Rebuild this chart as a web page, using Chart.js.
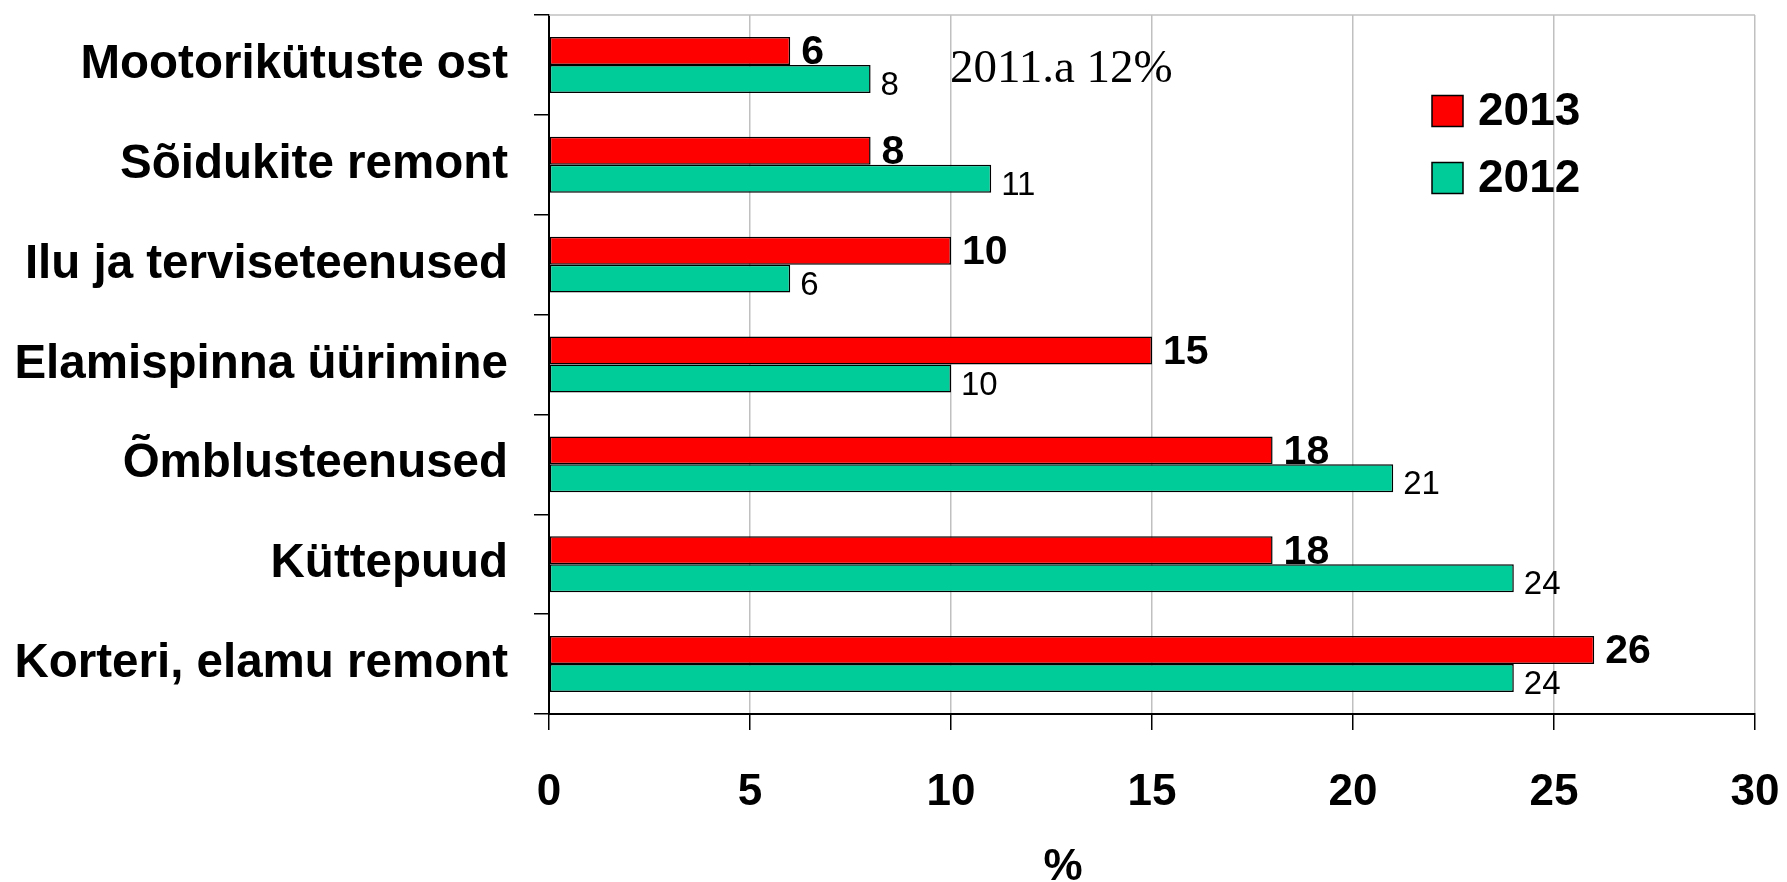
<!DOCTYPE html>
<html>
<head>
<meta charset="utf-8">
<script src="https://cdn.jsdelivr.net/npm/chart.js@4.4.1/dist/chart.umd.min.js"></script>
<style>
html,body{margin:0;padding:0;background:#fff;}
#wrap{width:1787px;height:882px;position:relative;}
</style>
</head>
<body>
<div id="wrap"><canvas id="c" width="1787" height="882"></canvas></div>
<script>
const categories = ["Mootorikütuste ost","Sõidukite remont","Ilu ja terviseteenused","Elamispinna üürimine","Õmblusteenused","Küttepuud","Korteri, elamu remont"];
const seriesNames = ["2013","2012"];
const values2013 = [6,8,10,15,18,18,26];
const values2012 = [8,11,6,10,21,24,24];
const xTicks = [0,5,10,15,20,25,30];
const axisTitle = "%";
const noteText = "2011.a 12%";

const SANS = "'Liberation Sans', Arial, sans-serif";
const SERIF = "'Liberation Serif', 'Times New Roman', serif";
const RED = "#ff0000";
const GREEN = "#00cc99";

const extras = {
  id: 'extras',
  afterDatasetsDraw(chart) {
    const ctx = chart.ctx;
    const area = chart.chartArea;
    ctx.save();
    ctx.strokeStyle = '#c0c0c0';
    ctx.lineWidth = 1.5;
    ctx.beginPath();
    ctx.moveTo(area.left, area.top);
    ctx.lineTo(area.right, area.top);
    ctx.stroke();
    const m0 = chart.getDatasetMeta(0), m1 = chart.getDatasetMeta(1);
    ctx.fillStyle = '#000';
    ctx.textBaseline = 'middle';
    ctx.textAlign = 'left';
    ctx.font = "bold 41px " + SANS;
    m0.data.forEach((b, i) => { ctx.fillText(String(values2013[i]), b.x + 11, b.y + 2); });
    ctx.font = "33px " + SANS;
    m1.data.forEach((b, i) => { ctx.fillText(String(values2012[i]), b.x + 10, b.y + 7); });
    ctx.font = "47px " + SERIF;
    ctx.fillText(noteText, 950, 70);
    const cols = [RED, GREEN];
    const ys = [111, 178];
    ctx.font = "bold 46px " + SANS;
    seriesNames.forEach((n, i) => {
      ctx.fillStyle = cols[i];
      ctx.fillRect(1432, ys[i] - 15.5, 31, 31);
      ctx.strokeStyle = '#000';
      ctx.lineWidth = 1.5;
      ctx.strokeRect(1432, ys[i] - 15.5, 31, 31);
      ctx.fillStyle = '#000';
      ctx.fillText(n, 1478, ys[i] + 1);
    });
    ctx.textAlign = 'center';
    ctx.font = "bold 44px " + SANS;
    ctx.fillText(axisTitle, 1063, 868);
    ctx.restore();
  }
};

new Chart(document.getElementById('c'), {
  type: 'bar',
  data: {
    labels: categories,
    datasets: [
      { label: seriesNames[0], data: values2013, backgroundColor: RED, borderColor: '#000', borderWidth: 1.5, borderSkipped: false },
      { label: seriesNames[1], data: values2012, backgroundColor: GREEN, borderColor: '#000', borderWidth: 1.5, borderSkipped: false }
    ]
  },
  options: {
    indexAxis: 'y',
    responsive: false,
    animation: false,
    devicePixelRatio: 1,
    categoryPercentage: 0.56,
    barPercentage: 1.0,
    layout: { padding: { top: 15, right: 32, left: 0, bottom: 0 } },
    plugins: { legend: { display: false }, tooltip: { enabled: false }, title: { display: false } },
    scales: {
      x: {
        type: 'linear',
        min: 0, max: 30,
        afterBuildTicks(scale) { scale.ticks = xTicks.map(v => ({ value: v })); },
        afterFit(scale) { scale.height = 168; scale.paddingLeft = 0; scale.paddingRight = 0; },
        grid: { color: '#c0c0c0', lineWidth: 1.5, tickColor: '#000', tickLength: 16, drawOnChartArea: true },
        border: { color: '#000', width: 2 },
        ticks: { color: '#000', font: { family: SANS, size: 44, weight: 'bold' }, padding: 36, maxRotation: 0, autoSkip: false }
      },
      y: {
        afterFit(scale) { scale.width = 549; scale.paddingTop = 0; scale.paddingBottom = 0; },
        grid: { drawOnChartArea: false, offset: true, tickColor: '#000', tickLength: 15, lineWidth: 1.5 },
        border: { color: '#000', width: 2 },
        ticks: { color: '#000', font: { family: SANS, size: 47.5, weight: 'bold' }, padding: 26, autoSkip: false }
      }
    }
  },
  plugins: [extras]
});
</script>
</body>
</html>
